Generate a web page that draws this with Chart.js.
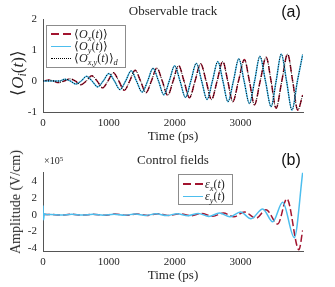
<!DOCTYPE html>
<html>
<head>
<meta charset="utf-8">
<script src="https://cdn.jsdelivr.net/npm/chart.js@4.4.0/dist/chart.umd.min.js"></script>
<style>
body{margin:0;background:#fff;}
#wrap{position:relative;width:335px;height:287px;font-family:"Liberation Serif",serif;color:#262626;overflow:hidden;}
.pane{position:absolute;left:0;width:335px;}
.t{position:absolute;white-space:nowrap;line-height:1;}
.c{transform:translate(-50%,-50%);}
.r{transform:translate(-50%,-50%) rotate(-90deg);}
.m{font-style:italic;}
sub{font-size:70%;vertical-align:-0.3em;line-height:0;}
sup{font-size:70%;vertical-align:0.45em;line-height:0;}
.leg{position:absolute;border:1px solid #8c8c8c;background:#fff;box-sizing:border-box;}
.smp{position:absolute;height:0;}
.dash{position:absolute;height:1.5px;background:repeating-linear-gradient(90deg,#A2142F 0 8px,transparent 8px 12px);}
.lab{position:absolute;transform:translateY(-50%);font-size:12px;white-space:nowrap;line-height:1;}
</style>
</head>
<body>
<div id="wrap">
  <div class="pane" style="top:0;height:143px;"><canvas id="top"></canvas></div>
  <div class="pane" style="top:143px;height:144px;"><canvas id="bottom"></canvas></div>

  <div class="t c" style="left:173px;top:10px;font-size:13px;">Observable track</div>
  <div class="t c" style="left:291px;top:12px;font-size:16px;font-family:'Liberation Sans',sans-serif;color:#111;">(a)</div>
  <div class="t r" style="left:17px;top:73px;font-size:17px;">&#10216;<span class="m">O</span><sub class="m">i</sub>(<span class="m">t</span>)&#10217;</div>
  <div class="t c" style="left:173px;top:135px;font-size:13px;">Time (ps)</div>

  <div class="leg" style="left:46px;top:25px;width:80px;height:43px;">
    <div class="dash" style="left:4px;top:7px;width:20px;"></div>
    <div class="lab" style="left:27px;top:8px;">&#10216;<span class="m">O</span><sub class="m">x</sub>(<span class="m">t</span>)&#10217;</div>
    <div class="smp" style="left:4px;top:20px;width:20px;border-top:1.5px solid #4DBEEE;"></div>
    <div class="lab" style="left:27px;top:20px;">&#10216;<span class="m">O</span><sub class="m">y</sub>(<span class="m">t</span>)&#10217;</div>
    <div class="smp" style="left:4px;top:32px;width:20px;border-top:1px dotted #000;"></div>
    <div class="lab" style="left:27px;top:32px;">&#10216;<span class="m">O</span><sub class="m">x,y</sub>(<span class="m">t</span>)&#10217;<sub class="m">d</sub></div>
  </div>

  <div class="t c" style="left:173px;top:159px;font-size:13px;">Control fields</div>
  <div class="t c" style="left:291px;top:160px;font-size:16px;font-family:'Liberation Sans',sans-serif;color:#111;">(b)</div>
  <div class="t" style="left:44px;top:156px;font-size:10px;">&times;10<sup>5</sup></div>
  <div class="t r" style="left:16px;top:202px;font-size:14px;">Amplitude (V/cm)</div>
  <div class="t c" style="left:173px;top:274px;font-size:13px;">Time (ps)</div>

  <div class="leg" style="left:178px;top:174px;width:55px;height:31px;">
    <div class="dash" style="left:4px;top:8px;width:20px;"></div>
    <div class="lab" style="left:26px;top:9px;"><span class="m">&epsilon;</span><sub class="m">x</sub>(<span class="m">t</span>)</div>
    <div class="smp" style="left:4px;top:21px;width:20px;border-top:1.5px solid #4DBEEE;"></div>
    <div class="lab" style="left:26px;top:21px;"><span class="m">&epsilon;</span><sub class="m">y</sub>(<span class="m">t</span>)</div>
  </div>
</div>

<script>
// observables (top panel), time in ps
const tOx = [0,100,165,230,320,410,492,575,657,740,822,905,987,1070,1152,1235,1317,1400,1482,1565,1647,1730,1812,1895,1977,2060,2142,2225,2310,2395,2478,2560,2645,2731,2807,2883,2970,3060,3136,3212,3300,3390,3465,3541,3628,3716,3793,3870,3945];
const vOx = [0,0.03,0,-0.05,0,0.07,0,-0.12,0,0.17,0,-0.22,0,0.27,0,-0.3,0,0.35,0,-0.38,0,0.42,0,-0.46,0,0.5,0,-0.54,0,0.56,0,-0.6,0,0.63,0,-0.67,0,0.69,0,-0.77,0,0.77,0,-0.88,0,0.87,0,-0.94,-0.45];
const tOy = [0,150,250,330,415,500,580,660,745,830,915,1000,1085,1170,1255,1340,1420,1505,1590,1671,1755,1836,1918,2000,2082,2164,2246,2329,2410,2492,2574,2656,2733,2810,2893,2975,3055,3136,3215,3295,3380,3465,3542,3620,3700,3783,3865,3945];
const vOy = [0,0,0,0.06,0,-0.1,0,0.15,0,-0.19,0,0.24,0,-0.28,0,0.33,0,-0.36,0,0.41,0,-0.45,0,0.49,0,-0.53,0,0.57,0,-0.6,0,0.63,0,-0.67,0,0.72,0,-0.73,0,0.8,0,-0.83,0,0.87,0,-0.94,0,0.85];

// control fields (bottom panel), units of 1e5 V/cm
const tEx = [0,110,270,430,600,760,930,1090,1260,1420,1590,1750,1920,2080,2250,2410,2580,2740,2900,3060,3237,3389,3566,3705,3889,3945];
const vEx = [0,0.03,-0.04,0.05,-0.05,0.06,-0.06,0.07,-0.07,0.08,-0.08,0.12,-0.1,0.12,-0.12,0.15,-0.18,0.2,-0.25,0.32,-0.42,0.6,-1.1,1.9,-4.15,-1.85];
const tEy = [0,8,20,60,120,280,440,600,760,920,1080,1240,1400,1560,1720,1880,2040,2200,2360,2520,2680,2840,3000,3160,3338,3490,3641,3818,3945];
const vEy = [1.1,-0.6,0.1,0,0.03,-0.03,0.04,-0.04,0.05,-0.05,0.06,-0.06,0.08,-0.08,0.1,-0.1,0.12,-0.12,0.15,-0.2,0.2,-0.25,0.32,-0.48,0.68,-0.84,1.48,-2.72,5.0];

const xTicks = [0, 1000, 2000, 3000];
const yTicksTop = [-1, 0, 1, 2];
const yTicksBottom = [-4, -2, 0, 2, 4];

const RED = '#A2142F';
const BLUE = '#4DBEEE';
const tickFont = { family: 'Liberation Serif', size: 11 };

function pts(ts, vs) {
  return ts.map((t, i) => ({ x: t, y: vs[i] }));
}

function line(data, color, width, dash) {
  return {
    data: data,
    borderColor: color,
    borderWidth: width,
    borderDash: dash,
    pointRadius: 0,
    fill: false,
    cubicInterpolationMode: 'monotone'
  };
}

function opts(yMin, yMax, yTicks, padTop, xHeight) {
  return {
    responsive: true,
    maintainAspectRatio: false,
    animation: false,
    layout: { padding: { top: padTop, right: 32, left: 0, bottom: 0 } },
    plugins: { legend: { display: false }, tooltip: { enabled: false } },
    scales: {
      x: {
        type: 'linear', min: 0, max: 3950,
        afterBuildTicks: s => { s.ticks = xTicks.map(v => ({ value: v })); },
        afterFit: s => { s.height = xHeight; },
        grid: { drawOnChartArea: false, drawTicks: false },
        border: { color: '#555', width: 1 },
        ticks: { padding: 5, font: tickFont, color: '#262626', maxRotation: 0, callback: v => String(v) }
      },
      y: {
        type: 'linear', min: yMin, max: yMax,
        afterBuildTicks: s => { s.ticks = yTicks.map(v => ({ value: v })); },
        afterFit: s => { s.width = 43; },
        grid: { drawOnChartArea: false, drawTicks: false },
        border: { color: '#555', width: 1 },
        ticks: { padding: 6, font: tickFont, color: '#262626', callback: v => String(v) }
      }
    }
  };
}

new Chart(document.getElementById('top'), {
  type: 'line',
  data: {
    datasets: [
      line(pts(tOy, vOy), '#000', 1, [1, 1.5]),
      line(pts(tOx, vOx), '#000', 1, [1, 1.5]),
      line(pts(tOy, vOy), BLUE, 1.5, []),
      line(pts(tOx, vOx), RED, 1.5, [7, 3])
    ]
  },
  options: opts(-1, 2, yTicksTop, 19, 31)
});

new Chart(document.getElementById('bottom'), {
  type: 'line',
  data: {
    datasets: [
      line(pts(tEy, vEy), BLUE, 1.5, []),
      line(pts(tEx, vEx), RED, 1.5, [7, 3])
    ]
  },
  options: opts(-4.3, 5, yTicksBottom, 29.5, 36)
});
</script>
</body>
</html>
